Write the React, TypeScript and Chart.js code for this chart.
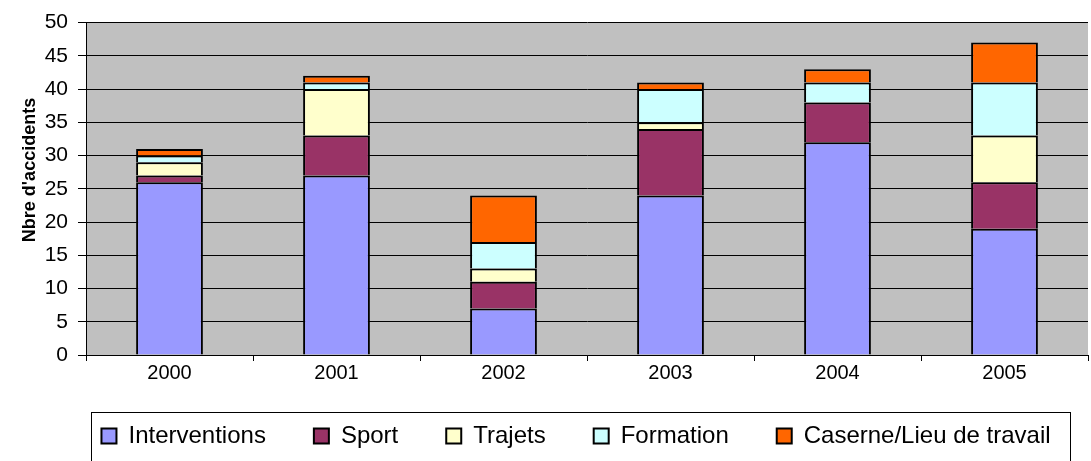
import React, { useEffect, useRef } from "react";
import { Chart, registerables } from "chart.js";

Chart.register(...registerables);

const categories = ["2000", "2001", "2002", "2003", "2004", "2005"];
const interventions = [26, 27, 7, 24, 32, 19];
const sport = [1, 6, 4, 10, 6, 7];
const trajets = [2, 7, 2, 1, 0, 7];
const formation = [1, 1, 4, 5, 3, 8];
const caserne = [1, 1, 7, 1, 2, 6];
const yTitle = "Nbre d'accidents";

const FONT = "'Liberation Sans', Arial, sans-serif";

export default function App() {
  const ref = useRef<HTMLCanvasElement>(null);

  useEffect(() => {
    document.body.style.margin = "0";
    const canvas = ref.current!;
    const bgPlugin = {
      id: "plotBg",
      afterLayout(chart: any) {
        const lg = chart.legend;
        if (lg) {
          const dx = 32;
          const dy = 376 - lg.top;
          lg.left += dx;
          lg.right += dx;
          lg.top += dy;
          lg.bottom += dy;
        }
      },
      beforeDraw(chart: any) {
        const { ctx, chartArea } = chart;
        ctx.save();
        ctx.fillStyle = "#C0C0C0";
        ctx.fillRect(chartArea.left, chartArea.top, chartArea.right - chartArea.left, chartArea.bottom - chartArea.top);
        ctx.restore();
      },
      afterDraw(chart: any) {
        const { ctx } = chart;
        ctx.save();
        ctx.strokeStyle = "#000";
        ctx.lineWidth = 1;
        ctx.strokeRect(91.5, 412.5, 979, 60);
        ctx.fillStyle = "#000";
        ctx.font = `bold 18px ${FONT}`;
        ctx.textAlign = "center";
        ctx.textBaseline = "middle";
        ctx.translate(30, 170);
        ctx.rotate(-Math.PI / 2);
        ctx.fillText(yTitle, 0, 0);
        ctx.restore();
      },
    };

    const mk = (label: string, data: number[], color: string) => ({
      label,
      data,
      backgroundColor: color,
      borderColor: "#000",
      borderWidth: 2,
      barPercentage: 0.4,
      categoryPercentage: 1,
    });

    const chart = new Chart(canvas, {
      type: "bar",
      data: {
        labels: categories,
        datasets: [
          mk("Interventions", interventions, "#9999FF"),
          mk("Sport", sport, "#993366"),
          mk("Trajets", trajets, "#FFFFCC"),
          mk("Formation", formation, "#CCFFFF"),
          mk("Caserne/Lieu de travail", caserne, "#FF6600"),
        ],
      },
      options: {
        responsive: false,
        animation: false,
        layout: { padding: { left: 0, right: 3, top: 19, bottom: -2 } },
        plugins: {
          tooltip: { enabled: false },
          legend: {
            position: "bottom",
            labels: {
              boxWidth: 15,
              boxHeight: 15,
              padding: 48,
              color: "#000",
              font: { size: 24, family: FONT },
            },
          },
        },
        scales: {
          x: {
            stacked: true,
            afterFit: (s: any) => {
              s.height = 26;
            },
            grid: {
              offset: true,
              drawOnChartArea: false,
              drawTicks: true,
              tickLength: 6,
              color: "#000",
            },
            border: { color: "#000", width: 1 },
            ticks: { color: "#000", padding: 2, font: { size: 20, family: FONT, lineHeight: 1 } },
          },
          y: {
            stacked: true,
            min: 0,
            max: 50,
            afterFit: (s: any) => {
              s.width = 86;
            },
            grid: { color: "#000", lineWidth: 1, tickLength: 8 },
            border: { color: "#000", width: 1 },
            ticks: { stepSize: 5, color: "#000", padding: 10, font: { size: 21, family: FONT } },
          },
        },
      },
      plugins: [bgPlugin],
    });
    return () => chart.destroy();
  }, []);

  return (
    <div style={{ width: 1091, height: 461 }}>
      <canvas ref={ref} width={1091} height={461} style={{ width: 1091, height: 461, display: "block" }} />
    </div>
  );
}
